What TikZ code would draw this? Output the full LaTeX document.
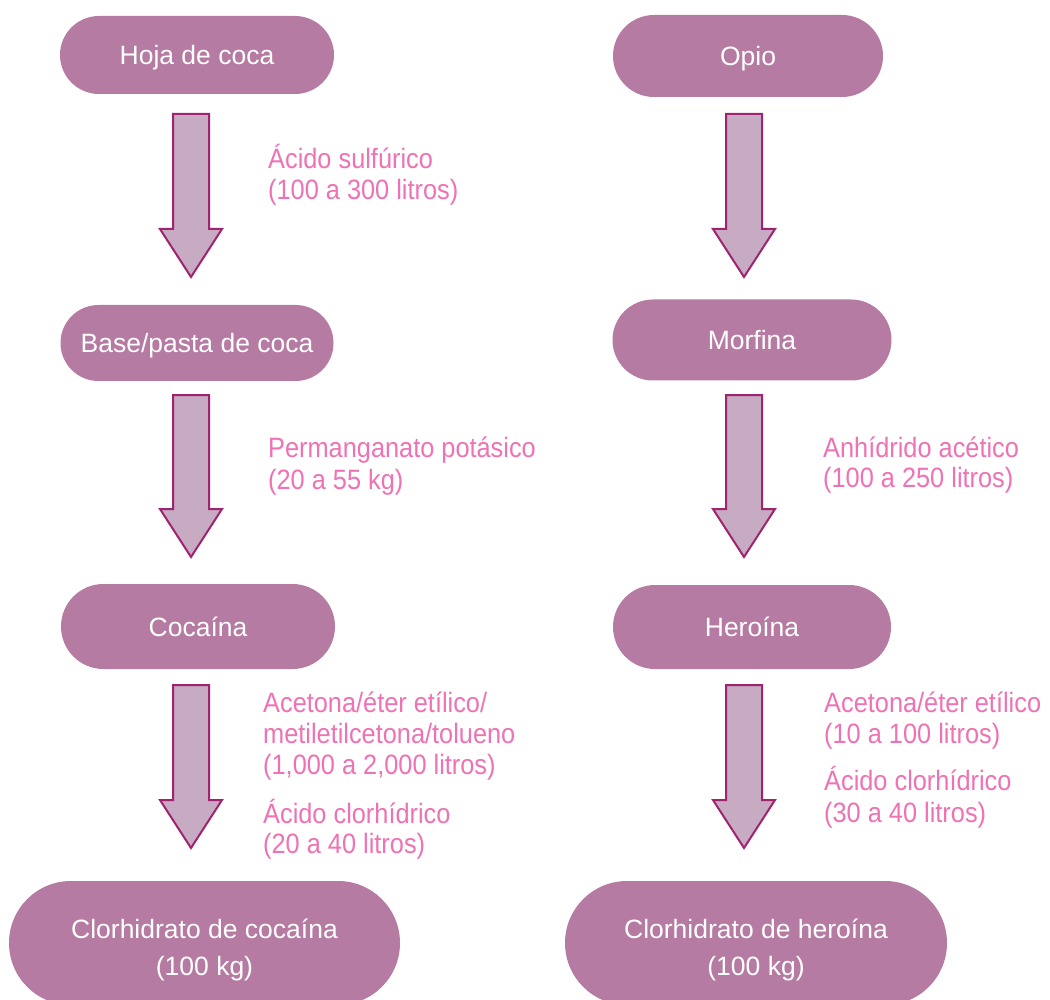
\documentclass[tikz,border=0pt]{standalone}
\usepackage{fontspec}
\setmainfont{Liberation Sans}
\newfontfamily\labelfont[FakeStretch=0.905]{Liberation Sans}
\definecolor{pillfill}{HTML}{B67BA2}
\definecolor{arrowfill}{HTML}{C6ABC2}
\definecolor{arrowline}{HTML}{A0236F}
\definecolor{labelpink}{HTML}{EE72B4}
\tikzset{
  pill/.style={rectangle, fill=pillfill, text=white, inner sep=0pt, align=center,
    text height=19pt, text depth=0pt,
    font=\fontsize{26.5}{37}\selectfont},
  pilltwo/.style={pill, text height=64pt},
  reagent/.style={anchor=base west, inner sep=0pt, text=labelpink,
    font=\labelfont\fontsize{28}{31}\selectfont},
  blockarrow/.style={fill=arrowfill, draw=arrowline, line width=2pt, line join=miter}
}
\newcommand{\downarrowshape}[4]{%
  \draw[blockarrow] ({#1-18},#2) -- ({#1+18},#2) -- ({#1+18},#3) -- ({#1+31},#3)
    -- (#1,#4) -- ({#1-31},#3) -- ({#1-18},#3) -- cycle;}
\begin{document}
\begin{tikzpicture}[x=1pt,y=-1pt]
\clip (0,0) rectangle (1050,1000);
\fill[white] (0,0) rectangle (1050,1000);

% left column
\node[pill, minimum width=274pt, minimum height=78pt, rounded corners=39pt] (hoja) at (197,55) {Hoja de coca};
\node[pill, minimum width=273pt, minimum height=76pt, rounded corners=38pt] (base) at (197,343) {Base/pasta de coca};
\node[pill, minimum width=274pt, minimum height=85pt, rounded corners=42.5pt] (cocaina) at (198,626.5) {Cocaína};
\node[pilltwo, minimum width=391pt, minimum height=124pt, rounded corners=62pt] (clorco) at (204.5,943) {Clorhidrato de cocaína\\(100 kg)};

% right column
\node[pill, minimum width=270pt, minimum height=82pt, rounded corners=41pt] (opio) at (748,56) {Opio};
\node[pill, minimum width=279pt, minimum height=81pt, rounded corners=40.5pt] (morfina) at (752,340) {Morfina};
\node[pill, minimum width=278pt, minimum height=84pt, rounded corners=42pt] (heroina) at (752,627) {Heroína};
\node[pilltwo, minimum width=382pt, minimum height=124pt, rounded corners=62pt] (clorhe) at (756,943) {Clorhidrato de heroína\\(100 kg)};

% block arrows
\downarrowshape{191}{114}{229}{277}
\downarrowshape{191}{395}{509}{557}
\downarrowshape{191}{685}{800}{848}
\downarrowshape{744}{114}{229}{277}
\downarrowshape{744}{395}{509}{557}
\downarrowshape{744}{685}{800}{848}

% reagent labels, left
\node[reagent] (la1) at (268,169) {Ácido sulfúrico};
\node[reagent] (la2) at (268,200) {(100 a 300 litros)};
\node[reagent] (lb1) at (268,457) {Permanganato potásico};
\node[reagent] (lb2) at (268,489) {(20 a 55 kg)};
\node[reagent] (lc1) at (263,712) {Acetona/éter etílico/};
\node[reagent] (lc2) at (263,743) {metiletilcetona/tolueno};
\node[reagent] (lc3) at (263,774) {(1,000 a 2,000 litros)};
\node[reagent] (lc4) at (263,823) {Ácido clorhídrico};
\node[reagent] (lc5) at (263,853) {(20 a 40 litros)};

% reagent labels, right
\node[reagent] (ra1) at (823,457) {Anhídrido acético};
\node[reagent] (ra2) at (823,487) {(100 a 250 litros)};
\node[reagent] (rb1) at (824,712) {Acetona/éter etílico};
\node[reagent] (rb2) at (824,743) {(10 a 100 litros)};
\node[reagent] (rb3) at (824,790) {Ácido clorhídrico};
\node[reagent] (rb4) at (824,822) {(30 a 40 litros)};
\end{tikzpicture}
\end{document}
